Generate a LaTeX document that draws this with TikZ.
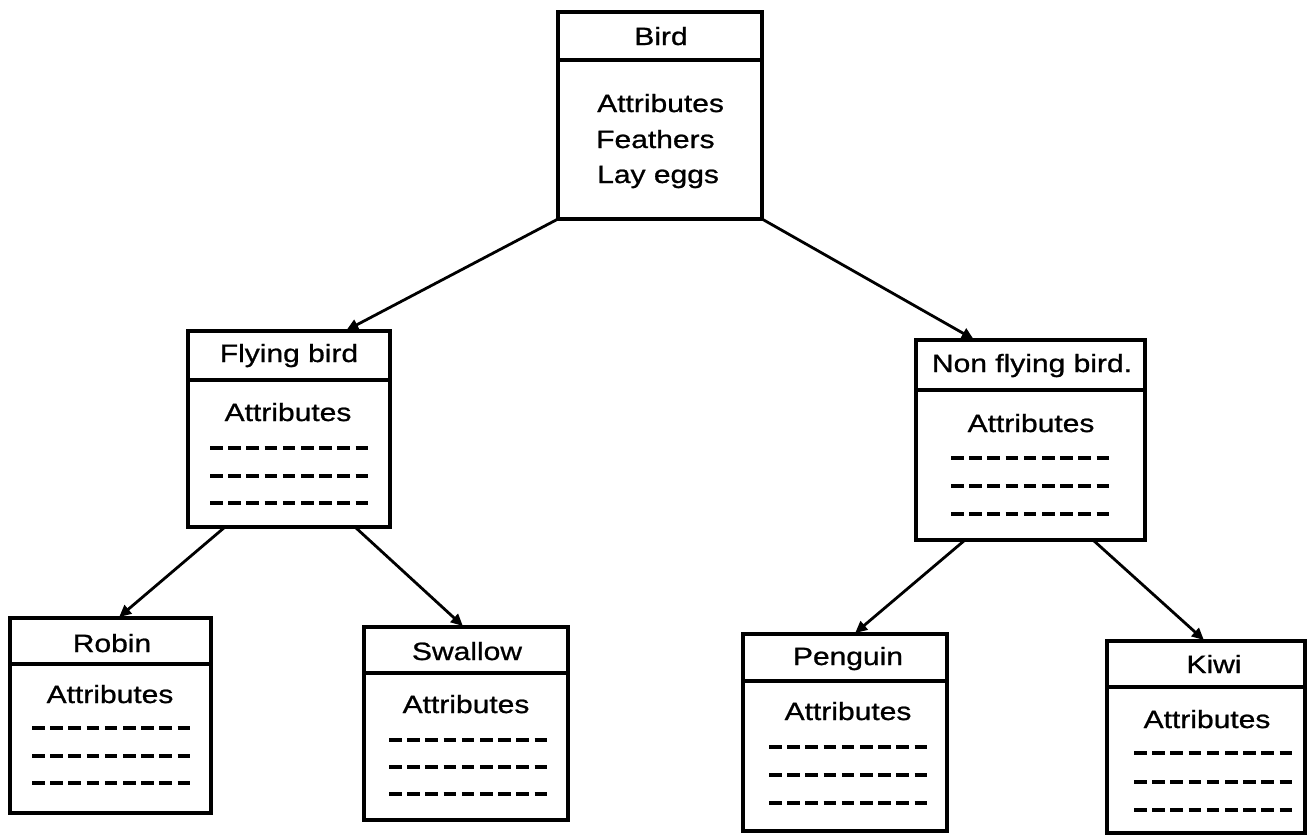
\documentclass[tikz,border=0pt]{standalone}
\usepackage{fontspec}
\setmainfont{Liberation Sans}[FakeStretch=1.2, FakeBold=0.9]
\usetikzlibrary{arrows.meta}

\tikzset{
  part/.style={draw=black, line width=3.2pt, inner sep=0pt, outer sep=0pt, fill=white},
  lbl/.style={anchor=base, inner sep=0pt, font=\fontsize{25}{30}\selectfont},
  lblw/.style={anchor=base west, inner sep=0pt, font=\fontsize{25}{30}\selectfont},
  slot/.style={line width=4.2pt, dash pattern=on 12.5pt off 5.7pt},
  link/.style={line width=2.8pt, -{Triangle[length=12pt,width=11pt]}, shorten >=1.5pt},
}

% A class box: header part #1 and body part #1b.
% #2 left, #3 top, #4 right, #5 divider, #6 bottom
\newcommand\classbox[6]{%
  \node[part, anchor=north west, minimum width={(#4-#2)*1pt},
        minimum height={(#5-#3)*1pt}] (#1) at (#2,#3) {};
  \node[part, anchor=north west, minimum width={(#4-#2)*1pt},
        minimum height={(#6-#5)*1pt}] (#1b) at (#2,#5) {};
}
% Three dashed placeholder lines centred at x = #1, at heights #2, #3, #4
\newcommand\slots[4]{%
  \foreach \yy in {#2,#3,#4}
    \draw[slot] (#1-79,\yy) -- (#1+79,\yy);
}

\begin{document}
\begin{tikzpicture}[x=1pt,y=-1pt]
\useasboundingbox[fill=white] (0,0) rectangle (1316,838);

% boxes
\classbox{bird}{558}{12}{762}{60}{219}
\classbox{fly}{188}{331}{390}{380}{527}
\classbox{non}{916}{340}{1145}{390}{540}
\classbox{robin}{10}{618}{211}{664}{813}
\classbox{swallow}{364}{627}{568}{673}{820}
\classbox{penguin}{743}{634}{947}{681}{831}
\classbox{kiwi}{1107}{641}{1305}{687}{833}

% Bird
\node[lbl] (birdT) at (661,45) {Bird};
\node[lblw] (birdA1) at (597,112) {Attributes};
\node[lblw] (birdA2) at (596,148) {Feathers};
\node[lblw] (birdA3) at (597,183) {Lay eggs};

% Flying bird
\node[lbl] (flyT) at (289,362) {Flying bird};
\node[lbl] (flyA) at (288,421) {Attributes};
\slots{289}{448}{476}{503}

% Non flying bird
\node[lbl] (nonT) at (1032,372) {Non flying bird.};
\node[lbl] (nonA) at (1031,432) {Attributes};
\slots{1030}{458}{486}{514}

% Robin
\node[lbl] (robinT) at (112,652) {Robin};
\node[lbl] (robinA) at (110,703) {Attributes};
\slots{111}{728}{756}{783}

% Swallow
\node[lbl] (swallowT) at (467,660) {Swallow};
\node[lbl] (swallowA) at (466,713) {Attributes};
\slots{468}{740}{767}{794}

% Penguin
\node[lbl] (penguinT) at (848,665) {Penguin};
\node[lbl] (penguinA) at (848,720) {Attributes};
\slots{848}{747}{775}{803}

% Kiwi
\node[lbl] (kiwiT) at (1214,673) {Kiwi};
\node[lbl] (kiwiA) at (1207,728) {Attributes};
\slots{1213}{753}{782}{810}

% inheritance links
\draw[link] (birdb.south west) -- ([xshift=157pt]fly.north west);
\draw[link] (birdb.south east) -- ([xshift=59pt]non.north west);
\draw[link] ([xshift=37pt]flyb.south west) -- ([xshift=108pt]robin.north west);
\draw[link] ([xshift=167pt]flyb.south west) -- ([xshift=100pt]swallow.north west);
\draw[link] ([xshift=49pt]nonb.south west) -- ([xshift=111pt]penguin.north west);
\draw[link] ([xshift=177pt]nonb.south west) -- ([xshift=98pt]kiwi.north west);
\end{tikzpicture}
\end{document}
